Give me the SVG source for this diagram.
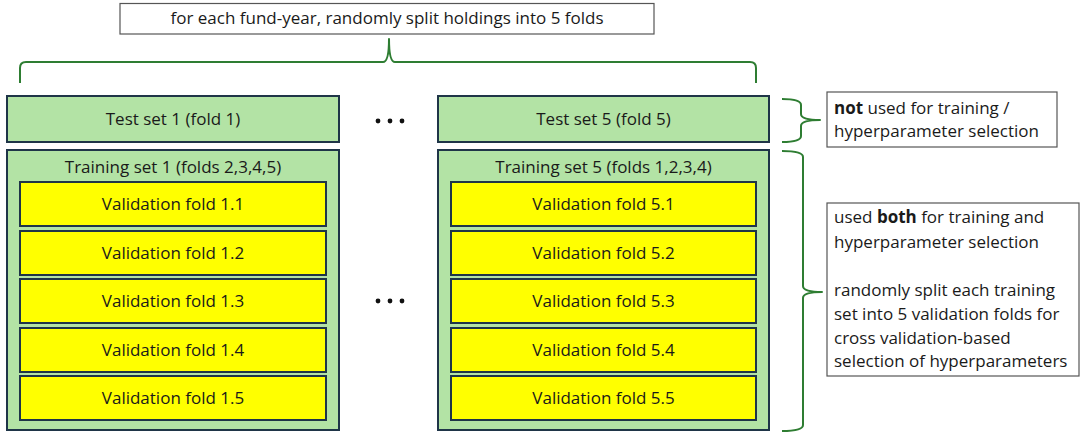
<svg xmlns="http://www.w3.org/2000/svg" width="1081" height="432" viewBox="0 0 1081 432">
<style>
text{font-family:"Open Sans","Liberation Sans",Arial,sans-serif;font-size:17px;fill:#1a1a1a}
.c{text-anchor:middle}
.g{fill:#b3e3a5;stroke:#1f3548;stroke-width:2}
.y{fill:#ffff00;stroke:#1f3548;stroke-width:2}
.note{fill:#fff;stroke:#555;stroke-width:1.2}
.br{fill:none;stroke:#2e7d32;stroke-width:2;stroke-linejoin:round}
.dot{fill:#111}
</style>
<g id="top-note"><rect class="note" x="120" y="3.5" width="534" height="30.5"/><text class="c" x="387" y="24">for each fund-year, randomly split holdings into 5 folds</text></g>
<g id="connectors">
<path class="br" d="M20,83 L20,68 Q20,62 26,62 L383,62 Q389,62 389,39 Q389,62 395,62 L750,62 Q756,62 756,68 L756,83"/>
<path class="br" d="M782,99 Q801,99 801,105 L801,114 Q801,120 820,120 Q801,120 801,126 L801,136 Q801,142 782,142"/>
<path class="br" d="M782,151 Q803,151 803,157 L803,286 Q803,292 822,292 Q803,292 803,298 L803,425 Q803,431 782,431"/>
</g>
<g id="test1"><rect class="g" x="7" y="96" width="332" height="46"/><text class="c" x="173" y="125">Test set 1 (fold 1)</text></g>
<g id="test5"><rect class="g" x="438" y="96" width="331" height="46"/><text class="c" x="603.5" y="125">Test set 5 (fold 5)</text></g>
<g id="dots-top"><circle class="dot" cx="378" cy="121" r="2.4"/><circle class="dot" cx="390" cy="121" r="2.4"/><circle class="dot" cx="402" cy="121" r="2.4"/></g>
<g id="train1"><rect class="g" x="7" y="150" width="332" height="280"/><text class="c" x="173" y="173">Training set 1 (folds 2,3,4,5)</text>
<rect class="y" x="20" y="182" width="306" height="44"/><text class="c" x="173" y="210">Validation fold 1.1</text>
<rect class="y" x="20" y="231" width="306" height="44"/><text class="c" x="173" y="259">Validation fold 1.2</text>
<rect class="y" x="20" y="279" width="306" height="44"/><text class="c" x="173" y="307">Validation fold 1.3</text>
<rect class="y" x="20" y="328" width="306" height="44"/><text class="c" x="173" y="356">Validation fold 1.4</text>
<rect class="y" x="20" y="376" width="306" height="44"/><text class="c" x="173" y="404">Validation fold 1.5</text>
</g>
<g id="dots-mid"><circle class="dot" cx="378" cy="301" r="2.4"/><circle class="dot" cx="390" cy="301" r="2.4"/><circle class="dot" cx="402" cy="301" r="2.4"/></g>
<g id="train5"><rect class="g" x="438" y="150" width="331" height="280"/><text class="c" x="603.5" y="173">Training set 5 (folds 1,2,3,4)</text>
<rect class="y" x="451" y="182" width="305" height="44"/><text class="c" x="603.5" y="210">Validation fold 5.1</text>
<rect class="y" x="451" y="231" width="305" height="44"/><text class="c" x="603.5" y="259">Validation fold 5.2</text>
<rect class="y" x="451" y="279" width="305" height="44"/><text class="c" x="603.5" y="307">Validation fold 5.3</text>
<rect class="y" x="451" y="328" width="305" height="44"/><text class="c" x="603.5" y="356">Validation fold 5.4</text>
<rect class="y" x="451" y="376" width="305" height="44"/><text class="c" x="603.5" y="404">Validation fold 5.5</text>
</g>
<g id="note-test"><rect class="note" x="827" y="92" width="230" height="55"/>
<text x="834" y="114"><tspan font-weight="bold">not</tspan> used for training /</text>
<text x="834" y="137">hyperparameter selection</text></g>
<g id="note-train"><rect class="note" x="827" y="203" width="252" height="173"/>
<text x="834" y="223"><tspan>used </tspan><tspan font-weight="bold">both</tspan><tspan> for training and</tspan></text>
<text x="834" y="248">hyperparameter selection</text>
<text x="834" y="296">randomly split each training</text>
<text x="834" y="320">set into 5 validation folds for</text>
<text x="834" y="344">cross validation-based</text>
<text x="834" y="367">selection of hyperparameters</text></g>
</svg>
